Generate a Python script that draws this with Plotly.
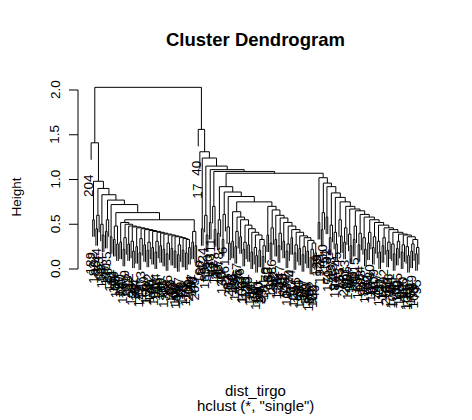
import plotly.graph_objects as go

# ── Dados ─────────────────────────────────────────────────────
# rótulos das folhas, na ordem em que aparecem da esquerda p/ direita
leaf_labels = [
    204, 189, 2, 182, 96, 44, 153, 61, 118, 7, 170, 35, 88, 141, 12, 199, 63,
    105, 27, 150, 74, 186, 9, 131, 58, 112, 193, 31, 84, 167, 46, 122, 3, 177,
    69, 101, 158, 22, 135, 80, 191, 51, 114, 16, 148, 93, 1, 172, 38, 126, 65,
    183, 10, 108, 144, 55, 197, 29, 163, 76, 119, 14, 200, 91, 137, 48, 205,
    40, 17, 166, 82, 124, 139, 57, 190, 33, 111, 71, 152, 25, 98, 178, 43, 130,
    6, 161, 87, 203, 52, 116, 19, 145, 67, 185, 36, 103, 156, 11, 128, 79, 194,
    47, 121, 4, 169, 60, 140, 24, 99, 181, 70, 133, 15, 159, 86, 202, 42, 113,
    28, 147, 75, 188, 53, 107, 134, 20, 174, 64, 125, 5, 154, 90, 196, 37, 117,
    143, 68, 180, 26, 102, 162, 49, 129, 8, 192, 77, 110, 151, 32, 171, 59, 138,
    18, 97, 184, 45, 123, 155, 72, 206, 13, 106, 142, 39, 176, 83, 115, 23, 165,
    54, 198, 94, 132, 62, 149, 30, 187, 81, 109, 157, 41, 173, 21, 127, 92, 201,
    56, 146, 34, 179, 104, 66, 160, 85, 195, 50, 120, 175, 100, 136, 78, 164,
    89, 168, 73, 95,
]

# altura de fusão entre folhas vizinhas (ultramétrica: define a árvore toda)
merge_heights = [
    # grupo da esquerda
    1.41, 0.55, 0.98, 0.45, 0.60, 0.90, 0.50, 0.38, 0.83, 0.42,
    0.55, 0.77, 0.36, 0.72, 0.33, 0.48, 0.28, 0.63, 0.30, 0.52,
    0.22, 0.35, 0.50, 0.28, 0.48, 0.31, 0.20, 0.47, 0.25, 0.46,
    0.18, 0.34, 0.45, 0.27, 0.44, 0.21, 0.30, 0.43, 0.24, 0.42,
    0.19, 0.31, 0.41, 0.26, 0.40, 0.22, 0.39, 0.17, 0.29, 0.38,
    0.23, 0.37, 0.20, 0.36, 0.16, 0.27, 0.35, 0.21, 0.34, 0.18,
    0.33, 0.24, 0.55, 0.30, 0.42, 0.26,
    # raiz
    2.03,
    # grupo da direita
    1.56, 1.31, 0.45, 1.24, 0.60, 0.38, 1.15, 0.52, 1.11, 0.70,
    0.44, 1.09, 0.40, 0.55, 0.92, 0.33, 0.61, 0.86, 0.47, 0.29,
    0.81, 0.31, 0.64, 0.25, 0.42, 0.58, 0.36, 0.55, 0.22, 0.30,
    0.49, 0.27, 0.45, 0.19, 0.41, 0.24, 0.15, 0.38, 0.21, 0.33,
    0.14, 0.26, 0.75, 0.38, 0.70, 0.29, 0.46, 0.66, 0.33, 0.60,
    0.26, 0.40, 0.57, 0.31, 0.52, 0.20, 0.28, 0.48, 0.35, 0.44,
    0.18, 0.27, 0.41, 0.23, 0.37, 0.16, 0.25, 0.35, 0.20, 0.32,
    0.13, 0.22, 0.29, 0.18, 1.07, 0.52, 1.02, 0.44, 0.63, 0.96,
    0.58, 0.92, 0.35, 0.49, 0.85, 0.41, 0.28, 0.80, 0.55, 0.37,
    0.75, 0.30, 0.46, 0.70, 0.39, 0.26, 0.67, 0.33, 0.48, 0.65,
    0.27, 0.40, 0.61, 0.35, 0.22, 0.58, 0.29, 0.41, 0.55, 0.24,
    0.36, 0.52, 0.31, 0.19, 0.49, 0.26, 0.35, 0.46, 0.21, 0.30,
    0.44, 0.28, 0.17, 0.41, 0.23, 0.31, 0.39, 0.19, 0.27, 0.38,
    0.25, 0.15, 0.36, 0.20, 0.28, 0.33, 0.17, 0.24,
]

y_ticks = [0.0, 0.5, 1.0, 1.5, 2.0]
y_tick_text = ["0.0", "0.5", "1.0", "1.5", "2.0"]

TITLE = "Cluster Dendrogram"
XLAB = "dist_tirgo"
SUB = 'hclust (*, "single")'
YLAB = "Height"

# ── Geometria (px) ────────────────────────────────────────────
# a página tem 8px de margem no <body>: a figura começa em (8, 8)
PAGE = 8
W, H = 472 - PAGE, 420 - PAGE
M_L, M_R, M_T, M_B = 78 - PAGE, 40, 78 - PAGE, 97
PW, PH = W - M_L - M_R, H - M_T - M_B
FONT = "Liberation Sans, Arial, sans-serif"

n = len(leaf_labels)
hang = 0.1 * (max(merge_heights) - min(merge_heights))
label_off = 0.14        # espaço entre a ponta da folha e o rótulo


def py(ypx):
    """pixel vertical da página -> coordenada 'paper'"""
    return (H - M_B - (ypx - PAGE)) / PH


def px(xpx):
    """pixel horizontal da página -> coordenada 'paper'"""
    return (xpx - PAGE - M_L) / PW


# ── Monta a árvore (divide recursivamente na maior altura) ────
seg_x, seg_y = [], []
leaf_ends = {}


def build(a, b):
    if a == b:
        return a + 1.0, None
    k = max(range(a, b), key=lambda j: merge_heights[j])
    h = merge_heights[k]
    xl, hl = build(a, k)
    xr, hr = build(k + 1, b)
    yl = hl if hl is not None else h - hang
    yr = hr if hr is not None else h - hang
    if hl is None:
        leaf_ends[a] = yl
    if hr is None:
        leaf_ends[b] = yr
    seg_x.extend([xl, xl, xr, xr, None])
    seg_y.extend([yl, h, h, yr, None])
    return (xl + xr) / 2, h


build(0, n - 1)

fig = go.Figure()
fig.add_trace(go.Scatter(
    x=seg_x, y=seg_y, mode="lines",
    line=dict(color="black", width=1),
    hoverinfo="skip", showlegend=False,
))

annotations = []
for i, lab in enumerate(leaf_labels):
    annotations.append(dict(
        x=i + 1, y=leaf_ends[i] - label_off, xref="x", yref="y",
        text=str(lab), textangle=-90, showarrow=False,
        xanchor="center", yanchor="top", xshift=-2,
        font=dict(family=FONT, size=13.5, color="black"),
    ))

# eixo y: rótulos dos ticks
for v, t in zip(y_ticks, y_tick_text):
    annotations.append(dict(
        x=0, y=v, xref="paper", yref="y", text=t, textangle=-90,
        showarrow=False, xanchor="center", yanchor="middle", xshift=-23,
        font=dict(family=FONT, size=13.5, color="black"),
    ))

# títulos
annotations += [
    dict(x=0.5, y=py(40), xref="paper", yref="paper", text=f"<b>{TITLE}</b>",
         showarrow=False, xanchor="center", yanchor="middle",
         font=dict(family=FONT, size=18.5, color="black")),
    dict(x=0.5, y=py(390), xref="paper", yref="paper", text=XLAB,
         showarrow=False, xanchor="center", yanchor="middle",
         font=dict(family=FONT, size=15, color="black")),
    dict(x=0.5, y=py(405.5), xref="paper", yref="paper", text=SUB,
         showarrow=False, xanchor="center", yanchor="middle",
         font=dict(family=FONT, size=15, color="black")),
    dict(x=px(15.5), y=py(197), xref="paper", yref="paper",
         text=YLAB, textangle=-90, showarrow=False,
         xanchor="center", yanchor="middle",
         font=dict(family=FONT, size=13.5, color="black")),
]

# linha do eixo e marcas
shapes = [dict(type="line", xref="paper", yref="y", x0=0, x1=0,
               y0=y_ticks[0], y1=y_ticks[-1],
               line=dict(color="black", width=1))]
for v in y_ticks:
    shapes.append(dict(type="line", xref="paper", yref="y",
                       x0=-9 / PW, x1=0, y0=v, y1=v,
                       line=dict(color="black", width=1)))

ext = 0.04 * (n - 1)
fig.update_layout(
    width=W, height=H,
    margin=dict(l=M_L, r=M_R, t=M_T, b=M_B),
    paper_bgcolor="white", plot_bgcolor="white",
    xaxis=dict(range=[1 - ext, n + ext], visible=False),
    yaxis=dict(range=[-(323 - 269) / 89.5, (269 - 78) / 89.5],
               showgrid=False, zeroline=False, showline=False,
               showticklabels=False, ticks=""),
    annotations=annotations,
    shapes=shapes,
    showlegend=False,
)

fig.write_html("out.html")
